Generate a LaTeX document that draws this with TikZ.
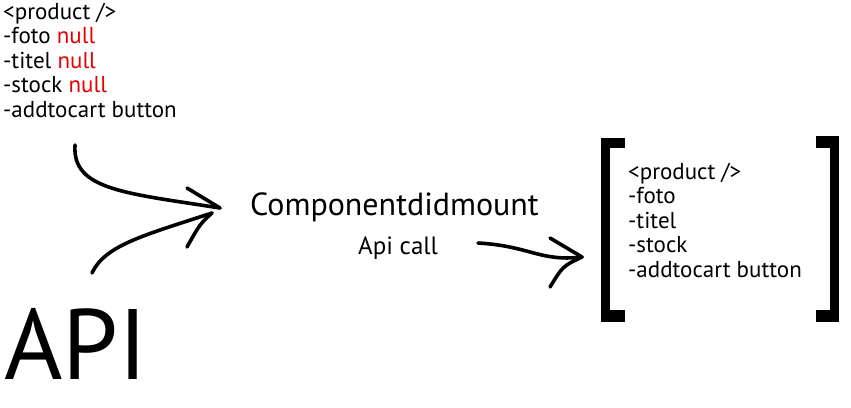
\documentclass[tikz,border=0pt]{standalone}
\usepackage{fontspec}
\setmainfont{PT Sans}
\usetikzlibrary{calc}
\definecolor{nullred}{RGB}{230,0,0}
\begin{document}
\begin{tikzpicture}[x=1pt,y=-1pt,
  listtext/.style={anchor=base west,inner sep=0pt,font=\fontsize{23}{24}\selectfont},
  midtext/.style={anchor=base west,inner sep=0pt,font=\fontsize{32}{36}\selectfont},
  calltext/.style={anchor=base west,inner sep=0pt,font=\fontsize{25}{30}\selectfont},
  apitext/.style={anchor=base west,inner sep=0pt,font=\fontsize{100}{110}\selectfont},
  stroke/.style={line width=3.6pt,line cap=round,line join=round},
  brk/.style={fill=black}]
\useasboundingbox (0,0) rectangle (851,407);
% top-left list
\node[listtext] (t1) at (3,19) {<product />};
\node[listtext] (t2) at (3,43.5) {-foto \textcolor{nullred}{null}};
\node[listtext] (t3) at (3,68) {-titel \textcolor{nullred}{null}};
\node[listtext] (t4) at (3,92.5) {-stock \textcolor{nullred}{null}};
\node[listtext] (t5) at (3,117) {-addtocart button};
\node[midtext] (cdm) at (250,215) {Componentdidmount};
\node[calltext] (call) at (358,254) {Api call};
\node[apitext] (api) at (4,379) {API};
% result list
\node[listtext] (r1) at (628,179) {<product />};
\node[listtext] (r2) at (628,203.5) {-foto};
\node[listtext] (r3) at (628,228) {-titel};
\node[listtext] (r4) at (628,252.5) {-stock};
\node[listtext] (r5) at (628,277) {-addtocart button};
% brackets
\fill[brk] (601,138) rectangle (610,322);
\fill[brk] (601,138) rectangle (625,148);
\fill[brk] (601,310) rectangle (625,322);
\fill[brk] (830,136) rectangle (839,322);
\fill[brk] (816,136) rectangle (839,148);
\fill[brk] (816,310) rectangle (839,322);
% arrows
\coordinate (a1s) at (75,145);
\coordinate (a1t) at (220,208);
\coordinate (a1b) at (187,188);
\coordinate (a2s) at (92,273);
\coordinate (a2t) at (212,213);
\coordinate (a2b) at (187,247);
\coordinate (a3s) at (478,243);
\coordinate (a3t) at (582,257);
\coordinate (a3u) at (550,238);
\coordinate (a3l) at (550,287);
\draw[stroke] (a1s) .. controls (72,190) and (125,193) .. (a1t);
\draw[stroke] (a1b) -- (a1t);
\draw[stroke] (a2s) .. controls (105,245) and (145,235) .. (a2t);
\draw[stroke] (a2t) .. controls (200,224) .. (a2b);
\draw[stroke] (a3s) .. controls (530,246) and (540,262) .. (a3t);
\draw[stroke] (a3u) -- (a3t);
\draw[stroke] (a3t) .. controls (563,266) .. (a3l);
\end{tikzpicture}
\end{document}
